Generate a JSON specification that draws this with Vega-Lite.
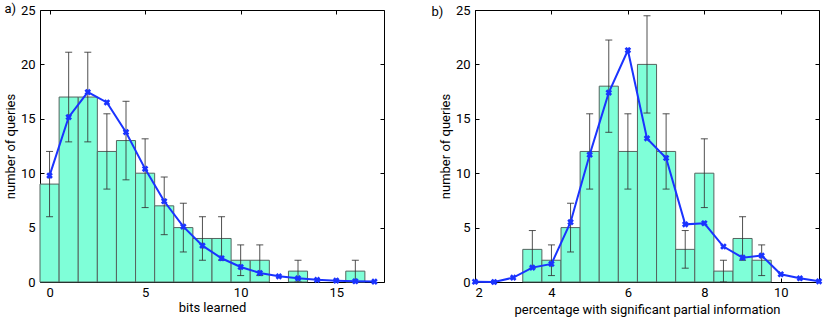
{
  "$schema": "https://vega.github.io/schema/vega-lite/v6.json",
  "padding": {"left": 3, "top": 2, "right": 4, "bottom": 2},
  "background": "white",
  "config": {
    "font": "Roboto",
    "view": {"stroke": "black", "strokeWidth": 1},
    "axis": {
      "grid": false,
      "domain": false,
      "tickSize": -4,
      "tickColor": "black",
      "labelFontSize": 13,
      "titleFontSize": 13,
      "titleFontWeight": "normal",
      "labelColor": "black",
      "titleColor": "black"
    },
    "axisBottom": {"labelPadding": 8, "titlePadding": 2},
    "axisLeft": {"labelPadding": 9, "titlePadding": 3},
    "title": {"fontSize": 13, "fontWeight": "normal", "color": "black"}
  },
  "datasets": {
    "barsA": [
      {"center": 0, "bin_start": -0.5, "bin_end": 0.5, "count": 9, "lo": 6, "hi": 12},
      {"center": 1, "bin_start": 0.5, "bin_end": 1.5, "count": 17, "lo": 12.88, "hi": 21.12},
      {"center": 2, "bin_start": 1.5, "bin_end": 2.5, "count": 17, "lo": 12.88, "hi": 21.12},
      {"center": 3, "bin_start": 2.5, "bin_end": 3.5, "count": 12, "lo": 8.54, "hi": 15.46},
      {"center": 4, "bin_start": 3.5, "bin_end": 4.5, "count": 13, "lo": 9.39, "hi": 16.61},
      {"center": 5, "bin_start": 4.5, "bin_end": 5.5, "count": 10, "lo": 6.84, "hi": 13.16},
      {"center": 6, "bin_start": 5.5, "bin_end": 6.5, "count": 7, "lo": 4.35, "hi": 9.65},
      {"center": 7, "bin_start": 6.5, "bin_end": 7.5, "count": 5, "lo": 2.76, "hi": 7.24},
      {"center": 8, "bin_start": 7.5, "bin_end": 8.5, "count": 4, "lo": 2, "hi": 6},
      {"center": 9, "bin_start": 8.5, "bin_end": 9.5, "count": 4, "lo": 2, "hi": 6},
      {"center": 10, "bin_start": 9.5, "bin_end": 10.5, "count": 2, "lo": 0.59, "hi": 3.41},
      {"center": 11, "bin_start": 10.5, "bin_end": 11.5, "count": 2, "lo": 0.59, "hi": 3.41},
      {"center": 13, "bin_start": 12.5, "bin_end": 13.5, "count": 1, "lo": 0, "hi": 2},
      {"center": 16, "bin_start": 15.5, "bin_end": 16.5, "count": 1, "lo": 0, "hi": 2}
    ],
    "lineA": [
      {"x": 0, "y": 9.78}, {"x": 1, "y": 15.15}, {"x": 2, "y": 17.45}, {"x": 3, "y": 16.5},
      {"x": 4, "y": 13.77}, {"x": 5, "y": 10.4}, {"x": 6, "y": 7.42}, {"x": 7, "y": 5.09},
      {"x": 8, "y": 3.34}, {"x": 9, "y": 2.18}, {"x": 10, "y": 1.38}, {"x": 11, "y": 0.83},
      {"x": 12, "y": 0.52}, {"x": 13, "y": 0.34}, {"x": 14, "y": 0.2}, {"x": 15, "y": 0.12},
      {"x": 16, "y": 0.07}, {"x": 17, "y": 0.04}
    ],
    "barsB": [
      {"center": 3.5, "bin_start": 3.25, "bin_end": 3.75, "count": 3, "lo": 1.27, "hi": 4.73},
      {"center": 4, "bin_start": 3.75, "bin_end": 4.25, "count": 2, "lo": 0.59, "hi": 3.41},
      {"center": 4.5, "bin_start": 4.25, "bin_end": 4.75, "count": 5, "lo": 2.76, "hi": 7.24},
      {"center": 5, "bin_start": 4.75, "bin_end": 5.25, "count": 12, "lo": 8.54, "hi": 15.46},
      {"center": 5.5, "bin_start": 5.25, "bin_end": 5.75, "count": 18, "lo": 13.76, "hi": 22.24},
      {"center": 6, "bin_start": 5.75, "bin_end": 6.25, "count": 12, "lo": 8.54, "hi": 15.46},
      {"center": 6.5, "bin_start": 6.25, "bin_end": 6.75, "count": 20, "lo": 15.53, "hi": 24.47},
      {"center": 7, "bin_start": 6.75, "bin_end": 7.25, "count": 12, "lo": 8.54, "hi": 15.46},
      {"center": 7.5, "bin_start": 7.25, "bin_end": 7.75, "count": 3, "lo": 1.27, "hi": 4.73},
      {"center": 8, "bin_start": 7.75, "bin_end": 8.25, "count": 10, "lo": 6.84, "hi": 13.16},
      {"center": 8.5, "bin_start": 8.25, "bin_end": 8.75, "count": 1, "lo": 0, "hi": 2},
      {"center": 9, "bin_start": 8.75, "bin_end": 9.25, "count": 4, "lo": 2, "hi": 6},
      {"center": 9.5, "bin_start": 9.25, "bin_end": 9.75, "count": 2, "lo": 0.59, "hi": 3.41}
    ],
    "lineB": [
      {"x": 2, "y": 0.02}, {"x": 2.5, "y": 0.0}, {"x": 3, "y": 0.4}, {"x": 3.5, "y": 1.32},
      {"x": 4, "y": 1.66}, {"x": 4.5, "y": 5.5}, {"x": 5, "y": 11.7}, {"x": 5.5, "y": 17.4},
      {"x": 6, "y": 21.3}, {"x": 6.5, "y": 13.2}, {"x": 7, "y": 11.4}, {"x": 7.5, "y": 5.3},
      {"x": 8, "y": 5.4}, {"x": 8.5, "y": 3.26}, {"x": 9, "y": 2.24}, {"x": 9.5, "y": 2.43},
      {"x": 10, "y": 0.71}, {"x": 10.5, "y": 0.34}, {"x": 11, "y": 0.06}
    ]
  },
  "spacing": 45,
  "hconcat": [
    {
      "width": 344,
      "height": 272,
      "title": {"text": "a)", "anchor": "start", "frame": "bounds", "offset": -12},
      "layer": [
        {
          "data": {"name": "barsA"},
          "mark": {"type": "bar", "fill": "#7fffd8", "stroke": "#55645f", "strokeWidth": 1},
          "encoding": {
            "x": {"field": "bin_start", "type": "quantitative",
                  "scale": {"domain": [-0.5, 17.5], "nice": false, "zero": false},
                  "axis": {"orient": "bottom", "values": [0, 5, 10, 15], "title": "bits learned"}},
            "x2": {"field": "bin_end"},
            "y": {"field": "count", "type": "quantitative",
                  "scale": {"domain": [0, 25], "nice": false},
                  "axis": {"orient": "left", "values": [0, 5, 10, 15, 20, 25], "title": "number of queries"}},
            "y2": {"datum": 0}
          }
        },
        {
          "data": {"name": "barsA"},
          "mark": {"type": "rule", "color": "#333", "strokeWidth": 1, "opacity": 0.85},
          "encoding": {
            "x": {"field": "center", "type": "quantitative", "axis": null},
            "y": {"field": "lo", "type": "quantitative", "axis": null},
            "y2": {"field": "hi"}
          }
        },
        {
          "data": {"name": "barsA"},
          "mark": {"type": "tick", "orient": "horizontal", "color": "#333", "size": 7, "thickness": 1, "opacity": 0.85},
          "encoding": {
            "x": {"field": "center", "type": "quantitative", "axis": null},
            "y": {"field": "lo", "type": "quantitative", "axis": null}
          }
        },
        {
          "data": {"name": "barsA"},
          "mark": {"type": "tick", "orient": "horizontal", "color": "#333", "size": 7, "thickness": 1, "opacity": 0.85},
          "encoding": {
            "x": {"field": "center", "type": "quantitative", "axis": null},
            "y": {"field": "hi", "type": "quantitative", "axis": null}
          }
        },
        {
          "data": {"name": "lineA"},
          "mark": {"type": "line", "color": "#1a33ff", "strokeWidth": 2,
                   "point": {"shape": "cross", "angle": 45, "size": 45, "filled": true, "color": "#1a33ff"}},
          "encoding": {
            "x": {"field": "x", "type": "quantitative",
                  "axis": {"orient": "top", "values": [0, 5, 10, 15], "labels": false, "title": null}},
            "y": {"field": "y", "type": "quantitative",
                  "axis": {"orient": "right", "values": [0, 5, 10, 15, 20, 25], "labels": false, "title": null}}
          }
        }
      ]
    },
    {
      "width": 344,
      "height": 272,
      "title": {"text": "b)", "anchor": "start", "frame": "bounds", "offset": -15, "dx": -8},
      "layer": [
        {
          "data": {"name": "barsB"},
          "mark": {"type": "bar", "fill": "#7fffd8", "stroke": "#55645f", "strokeWidth": 1},
          "encoding": {
            "x": {"field": "bin_start", "type": "quantitative",
                  "scale": {"domain": [2, 11], "nice": false, "zero": false},
                  "axis": {"orient": "bottom", "values": [2, 4, 6, 8, 10], "labelPadding": 8, "titlePadding": 4,
                           "title": "percentage with significant partial information"}},
            "x2": {"field": "bin_end"},
            "y": {"field": "count", "type": "quantitative",
                  "scale": {"domain": [0, 25], "nice": false},
                  "axis": {"orient": "left", "values": [0, 5, 10, 15, 20, 25], "title": "number of queries"}},
            "y2": {"datum": 0}
          }
        },
        {
          "data": {"name": "barsB"},
          "mark": {"type": "rule", "color": "#333", "strokeWidth": 1, "opacity": 0.85},
          "encoding": {
            "x": {"field": "center", "type": "quantitative", "axis": null},
            "y": {"field": "lo", "type": "quantitative", "axis": null},
            "y2": {"field": "hi"}
          }
        },
        {
          "data": {"name": "barsB"},
          "mark": {"type": "tick", "orient": "horizontal", "color": "#333", "size": 7, "thickness": 1, "opacity": 0.85},
          "encoding": {
            "x": {"field": "center", "type": "quantitative", "axis": null},
            "y": {"field": "lo", "type": "quantitative", "axis": null}
          }
        },
        {
          "data": {"name": "barsB"},
          "mark": {"type": "tick", "orient": "horizontal", "color": "#333", "size": 7, "thickness": 1, "opacity": 0.85},
          "encoding": {
            "x": {"field": "center", "type": "quantitative", "axis": null},
            "y": {"field": "hi", "type": "quantitative", "axis": null}
          }
        },
        {
          "data": {"name": "lineB"},
          "mark": {"type": "line", "color": "#1a33ff", "strokeWidth": 2,
                   "point": {"shape": "cross", "angle": 45, "size": 45, "filled": true, "color": "#1a33ff"}},
          "encoding": {
            "x": {"field": "x", "type": "quantitative",
                  "axis": {"orient": "top", "values": [2, 4, 6, 8, 10], "labels": false, "title": null}},
            "y": {"field": "y", "type": "quantitative",
                  "axis": {"orient": "right", "values": [0, 5, 10, 15, 20, 25], "labels": false, "title": null}}
          }
        }
      ]
    }
  ]
}
